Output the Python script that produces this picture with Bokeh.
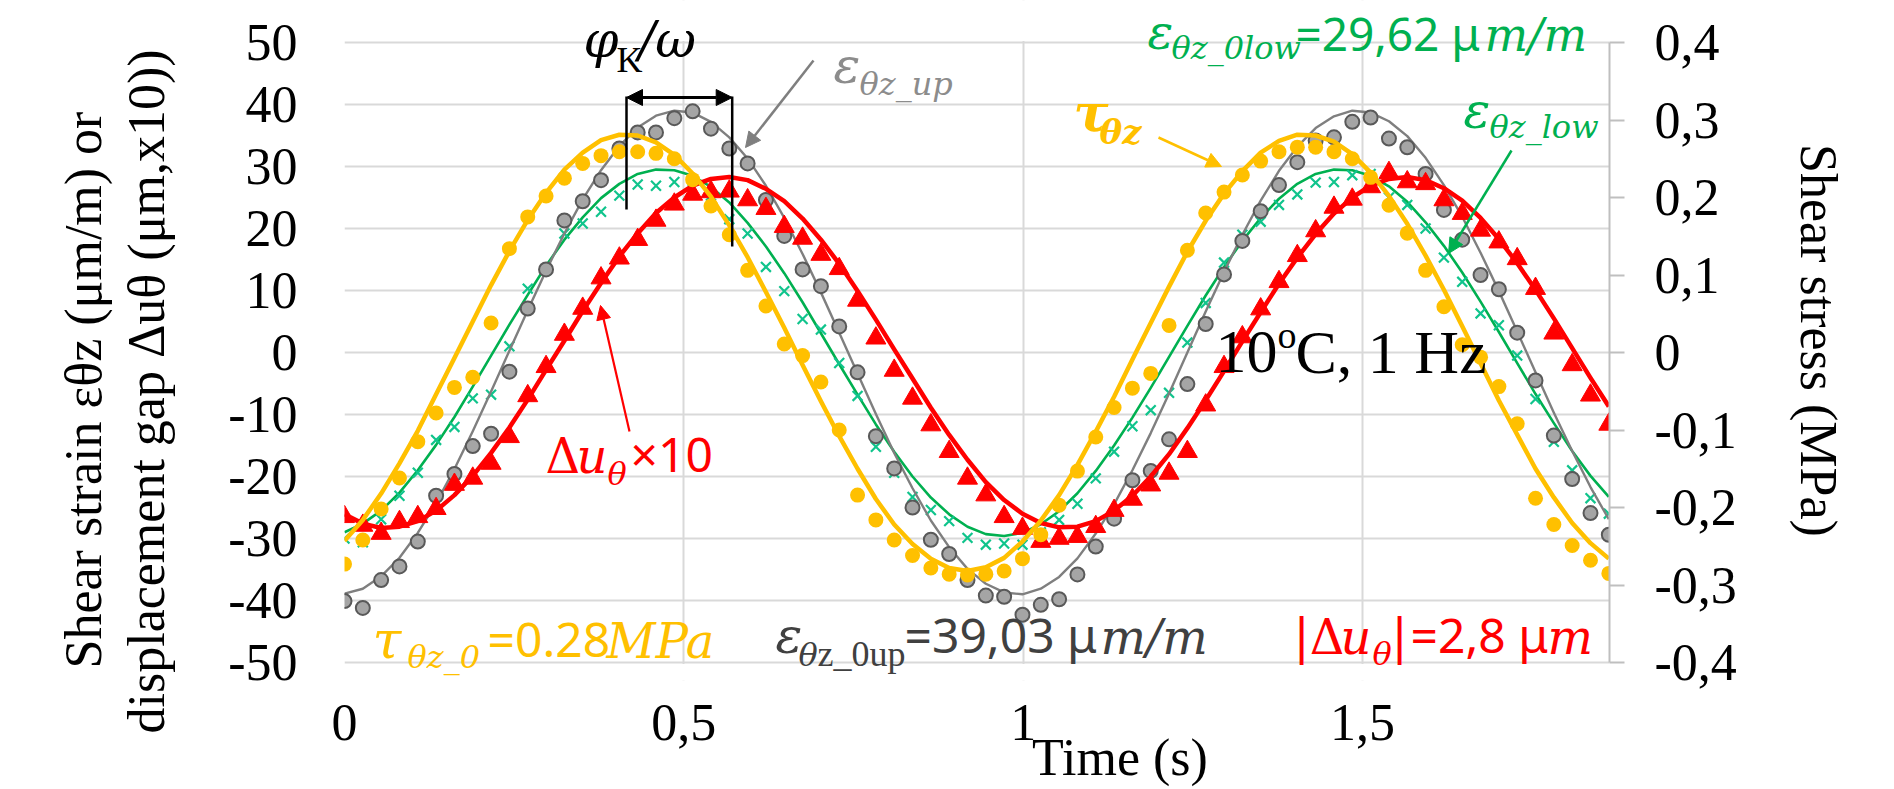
from bokeh.plotting import figure
from bokeh.models import (Range1d, LinearAxis, FixedTicker, CustomJSTickFormatter,
                          Label, Arrow, NormalHead, Title)
from bokeh.embed import file_html
from bokeh.resources import INLINE

# ---------------- data ----------------
time_s = [0.000, 0.027, 0.054, 0.081, 0.108, 0.135, 0.162, 0.189, 0.216, 0.243,
          0.270, 0.297, 0.324, 0.351, 0.378, 0.405, 0.432, 0.459, 0.486, 0.513,
          0.540, 0.567, 0.594, 0.621, 0.648, 0.675, 0.702, 0.729, 0.756, 0.783,
          0.810, 0.837, 0.864, 0.891, 0.918, 0.945, 0.972, 0.999, 1.026, 1.053,
          1.080, 1.107, 1.134, 1.161, 1.188, 1.215, 1.242, 1.269, 1.296, 1.323,
          1.350, 1.377, 1.404, 1.431, 1.458, 1.485, 1.512, 1.539, 1.566, 1.593,
          1.620, 1.647, 1.674, 1.701, 1.728, 1.755, 1.782, 1.809, 1.836, 1.863]

# upper shear strain (um/m), measured points and fitted curve
eps_up = [-40.1, -41.2, -36.7, -34.5, -30.5, -23.1, -19.6, -15.1, -13.1, -3.1,
          7.1, 13.4, 21.3, 24.4, 27.8, 32.9, 35.5, 35.5, 37.8, 38.9,
          36.1, 32.9, 30.5, 24.6, 18.8, 13.4, 10.7, 4.2, -3.2, -13.5,
          -18.7, -25.0, -30.2, -32.5, -36.7, -39.2, -39.4, -42.3, -40.7, -39.8,
          -35.8, -31.3, -26.8, -20.6, -19.1, -14.0, -5.1, 4.6, 12.6, 18.0,
          22.8, 27.0, 30.7, 34.2, 34.7, 37.2, 37.9, 34.5, 33.1, 28.8,
          23.0, 18.2, 12.5, 10.2, 3.2, -4.5, -13.4, -20.4, -25.9, -29.4]
eps_up_fit = [-38.9, -38.1, -36.1, -33.1, -29.1, -24.3, -18.8, -12.7, -6.3, 0.3,
              6.8, 13.2, 19.2, 24.7, 29.4, 33.3, 36.3, 38.2, 39.0, 38.7,
              37.2, 34.7, 31.3, 26.9, 21.7, 15.9, 9.7, 3.2, -3.4, -9.9,
              -16.2, -21.9, -27.1, -31.4, -34.9, -37.3, -38.7, -39.0, -38.1, -36.2,
              -33.2, -29.2, -24.5, -19.0, -13.0, -6.6, 0.0, 6.6, 13.0, 19.0,
              24.5, 29.3, 33.2, 36.2, 38.1, 39.0, 38.7, 37.3, 34.9, 31.4,
              27.0, 21.9, 16.1, 9.9, 3.4, -3.2, -9.7, -15.9, -21.7, -26.9]

# lower shear strain (um/m)
eps_low = [-30.0, -30.6, -26.9, -23.1, -19.4, -14.1, -12.0, -7.4, -6.8, 1.0,
           10.3, 13.3, 19.2, 20.8, 22.7, 25.3, 27.1, 26.9, 27.5, 27.7,
           25.3, 21.5, 19.2, 13.8, 9.9, 5.4, 3.7, -1.7, -7.0, -15.2,
           -19.4, -23.3, -25.4, -27.2, -29.9, -31.0, -30.8, -31.0, -29.0, -27.0,
           -24.4, -20.3, -16.0, -11.9, -9.3, -6.5, 1.6, 8.0, 14.5, 19.0,
           21.1, 23.8, 25.5, 27.4, 27.5, 28.6, 28.8, 25.0, 23.8, 20.0,
           15.3, 11.4, 6.3, 4.4, -0.5, -7.5, -14.4, -19.0, -23.5, -26.0]
eps_low_fit = [-29.0, -27.6, -25.5, -22.6, -19.0, -14.9, -10.4, -5.5, -0.5, 4.5,
               9.3, 14.0, 18.2, 21.8, 24.9, 27.2, 28.8, 29.5, 29.4, 28.5,
               26.7, 24.2, 20.9, 17.1, 12.8, 8.1, 3.1, -1.9, -6.8, -11.6,
               -16.0, -20.0, -23.4, -26.1, -28.1, -29.3, -29.6, -29.1, -27.7, -25.6,
               -22.7, -19.1, -15.0, -10.5, -5.7, -0.7, 4.3, 9.2, 13.8, 18.0,
               21.7, 24.8, 27.2, 28.8, 29.5, 29.4, 28.5, 26.8, 24.3, 21.0,
               17.2, 12.9, 8.2, 3.3, -1.7, -6.7, -11.4, -15.9, -19.9, -23.3]

# displacement gap x10 (um x10)
du_x10 = [-26.5, -27.9, -29.2, -27.3, -26.5, -25.2, -21.3, -20.3, -17.9, -13.6,
          -7.0, -2.3, 2.9, 7.1, 12.0, 15.2, 18.2, 21.3, 23.9, 25.5,
          25.9, 26.0, 24.6, 23.2, 20.3, 18.4, 15.8, 13.5, 8.4, 2.3,
          -2.9, -7.4, -11.7, -16.0, -20.3, -23.0, -26.5, -28.4, -30.5, -30.0,
          -29.7, -28.1, -25.5, -23.7, -21.4, -19.5, -16.0, -8.5, -2.3, 2.5,
          7.0, 11.4, 15.6, 19.6, 23.4, 24.7, 26.7, 29.0, 27.5, 27.2,
          24.6, 22.4, 19.7, 17.8, 15.1, 10.3, 3.1, -2.0, -6.9, -11.6]
du_x10_fit = [-26.1, -27.6, -28.3, -28.1, -27.2, -25.5, -23.0, -19.9, -16.2, -12.1,
              -7.6, -2.8, 1.9, 6.7, 11.2, 15.5, 19.2, 22.5, 25.0, 26.9,
              28.0, 28.3, 27.8, 26.4, 24.4, 21.6, 18.2, 14.3, 9.9, 5.3,
              0.5, -4.2, -8.9, -13.3, -17.3, -20.9, -23.8, -26.0, -27.5, -28.2,
              -28.1, -27.2, -25.5, -23.1, -20.0, -16.4, -12.2, -7.7, -3.0, 1.8,
              6.5, 11.1, 15.3, 19.1, 22.4, 25.0, 26.9, 28.0, 28.3, 27.8,
              26.5, 24.5, 21.7, 18.3, 14.4, 10.1, 5.5, 0.7, -4.1, -8.7]

# shear stress (MPa), right axis
tau = [-0.273, -0.242, -0.202, -0.162, -0.115, -0.078, -0.045, -0.032, 0.038, 0.134,
       0.175, 0.202, 0.225, 0.244, 0.254, 0.259, 0.259, 0.257, 0.250, 0.223,
       0.189, 0.152, 0.106, 0.060, 0.011, -0.004, -0.038, -0.100, -0.184, -0.216,
       -0.242, -0.262, -0.278, -0.286, -0.287, -0.286, -0.282, -0.266, -0.235, -0.197,
       -0.153, -0.109, -0.071, -0.046, -0.027, 0.035, 0.132, 0.180, 0.207, 0.229,
       0.247, 0.259, 0.265, 0.265, 0.259, 0.250, 0.226, 0.190, 0.154, 0.106,
       0.059, 0.010, -0.006, -0.044, -0.092, -0.188, -0.222, -0.249, -0.268, -0.285]
tau_fit = [-0.243, -0.216, -0.182, -0.143, -0.101, -0.054, -0.007, 0.040, 0.087, 0.131,
           0.171, 0.206, 0.236, 0.258, 0.274, 0.281, 0.280, 0.271, 0.255, 0.231,
           0.201, 0.164, 0.123, 0.078, 0.032, -0.016, -0.063, -0.108, -0.150, -0.189,
           -0.222, -0.247, -0.266, -0.278, -0.282, -0.277, -0.265, -0.244, -0.217, -0.184,
           -0.145, -0.102, -0.057, -0.009, 0.038, 0.085, 0.130, 0.170, 0.205, 0.234,
           0.258, 0.273, 0.281, 0.280, 0.272, 0.256, 0.232, 0.202, 0.166, 0.125,
           0.081, 0.034, -0.014, -0.062, -0.106, -0.150, -0.187, -0.220, -0.246, -0.266]

x_ticks = [0, 0.5, 1, 1.5]
left_ticks = [-50, -40, -30, -20, -10, 0, 10, 20, 30, 40, 50]
right_ticks = [-0.4, -0.3, -0.2, -0.1, 0, 0.1, 0.2, 0.3, 0.4]
X_MAX = 1.864
Y_MIN, Y_MAX = -50, 50
R_MIN, R_MAX = -0.4, 0.4

# ---------------- styles / geometry ----------------
YEL = "#FFC000"
GRY_LINE = "#7F7F7F"
GRY_FILL = "#A5A5A5"
GRY_EDGE = "#595959"
GRN_LINE = "#00B050"
GRN_MARK = "#10C48C"
RED = "#FF0000"
SERIF = "Liberation Serif"
MATH = "DejaVu Serif"
SANS = "Noto Sans"
MID = {SERIF: 0.3375, MATH: 0.346, SANS: 0.388}   # baseline -> box middle (em)

W, H = 1892, 788
FL, FR = 344, 1609
PLOT_TOP, PLOT_BOT = 42, 662
FRAME_BOT = 680
PPY = (PLOT_BOT - PLOT_TOP) / (Y_MAX - Y_MIN)
Y_HI = Y_MAX + PLOT_TOP / PPY
Y_LO = Y_MIN - (FRAME_BOT - PLOT_BOT) / PPY
SCALE_R = (R_MAX - R_MIN) / (Y_MAX - Y_MIN)

p = figure(width=W, height=H, output_backend="svg", toolbar_location=None,
           x_range=Range1d(0, X_MAX), y_range=Range1d(Y_LO, Y_HI),
           min_border_left=FL, min_border_right=W - FR, min_border_top=0,
           min_border_bottom=H - FRAME_BOT, outline_line_color=None,
           background_fill_color="white", border_fill_color="white")

def dx(px):
    return (px - FL) / (FR - FL) * X_MAX
def dy(py):
    return Y_MAX - (py - PLOT_TOP) / PPY

# grids
p.xgrid.ticker = FixedTicker(ticks=x_ticks)
p.ygrid.ticker = FixedTicker(ticks=left_ticks)
for g in (p.xgrid, p.ygrid):
    g.grid_line_color = "#D9D9D9"
    g.grid_line_width = 2

# white bands that keep the plot area limited to -50..50
band = 1.4 / PPY
p.quad(left=[0, 0], right=[X_MAX, X_MAX], bottom=[Y_MAX + band, Y_LO],
       top=[Y_HI, Y_MIN - band], fill_color="white", line_color=None)

NB = "\u00a0"
EM = "\u2003"

# bottom axis
xa = p.xaxis[0]
xa.ticker = FixedTicker(ticks=x_ticks)
xa.formatter = CustomJSTickFormatter(code="return tick.toFixed(1).replace('.', ',').replace(/,0$/, '');")
xa.axis_line_color = None
xa.major_tick_line_color = None
xa.minor_tick_line_color = None
xa.major_tick_out = 0
xa.major_tick_in = 0
xa.major_label_standoff = 24
xa.major_label_text_font = SERIF
xa.major_label_text_font_size = "52px"
xa.major_label_text_color = "black"
xa.axis_label = EM * 5 + NB * 2 + "Time (s)"
xa.axis_label_text_font = SERIF
xa.axis_label_text_font_size = "52px"
xa.axis_label_text_font_style = "normal"
xa.axis_label_text_color = "black"
xa.axis_label_standoff = -14

# left axis
ya = p.yaxis[0]
ya.ticker = FixedTicker(ticks=left_ticks)
ya.formatter = CustomJSTickFormatter(code="return tick.toFixed(0);")
ya.axis_line_color = None
ya.major_tick_line_color = None
ya.minor_tick_line_color = None
ya.major_tick_out = 0
ya.major_tick_in = 0
ya.major_label_standoff = 47
ya.major_label_text_font = SERIF
ya.major_label_text_font_size = "52px"
ya.major_label_text_color = "black"

# left axis title (two lines), placed in the left side panel
left_title = Title(text=NB * 5 + "Shear strain εθz (μm/m) or\ndisplacement gap Δuθ (μm,x10))",
                   align="left", offset=-53, vertical_align="middle", standoff=99,
                   text_font=SERIF, text_font_size="52px", text_font_style="normal",
                   text_color="black", text_line_height=1.1)
p.add_layout(left_title, "left")

# right axis (stress)
p.extra_y_ranges = {"stress": Range1d(Y_LO * SCALE_R, Y_HI * SCALE_R)}
ra = LinearAxis(y_range_name="stress", ticker=FixedTicker(ticks=right_ticks),
                formatter=CustomJSTickFormatter(code="return tick.toFixed(1).replace('.', ',').replace(/^-?0,0$/, '0');"))
ra.bounds = (R_MIN, R_MAX)
ra.axis_line_color = "#BFBFBF"
ra.axis_line_width = 2
ra.major_tick_line_color = "#BFBFBF"
ra.major_tick_line_width = 2
ra.major_tick_out = 15
ra.major_tick_in = 0
ra.minor_tick_line_color = None
ra.major_label_standoff = 30
ra.major_label_text_font = SERIF
ra.major_label_text_font_size = "52px"
ra.major_label_text_color = "black"
ra.axis_label = "Shear stress (MPa)"
ra.axis_label_text_font = SERIF
ra.axis_label_text_font_size = "52px"
ra.axis_label_text_font_style = "normal"
ra.axis_label_text_color = "black"
ra.axis_label_standoff = 50
p.add_layout(ra, "right")

# ---------------- series ----------------
p.line(time_s, eps_low_fit, line_color=GRN_LINE, line_width=2.6, line_join="round")
p.scatter(time_s, eps_low, marker="x", size=14, line_color=GRN_MARK, line_width=2.2)
p.line(time_s, eps_up_fit, line_color=GRY_LINE, line_width=2.4, line_join="round")
p.scatter(time_s, eps_up, marker="circle", size=14, fill_color=GRY_FILL,
          line_color=GRY_EDGE, line_width=2)
p.line(time_s, du_x10_fit, line_color=RED, line_width=4.5, line_join="round")
p.scatter(time_s, du_x10, marker="triangle", size=20, fill_color=RED, line_color=RED)
p.line(time_s, tau_fit, y_range_name="stress", line_color=YEL, line_width=4.5,
       line_join="round")
p.scatter(time_s, tau, y_range_name="stress", marker="circle", size=15,
          fill_color=YEL, line_color=None)

# ---------------- annotations ----------------
def lab(s, px, py, size, color="black", font=SERIF, style="normal"):
    # (px, py): left end of the text baseline, in page pixels
    p.add_layout(Label(x=dx(px), y=dy(py - MID[font] * size), text=s, text_font=font,
                       text_font_size=f"{size}px", text_color=color,
                       text_font_style=style, text_align="left",
                       text_baseline="middle"))

def arr(x0, y0, x1, y1, color, width=2.5, both=False, size=15):
    end = NormalHead(size=size, fill_color=color, line_color=color)
    start = NormalHead(size=size, fill_color=color, line_color=color) if both else None
    p.add_layout(Arrow(end=end, start=start, x_start=dx(x0), y_start=dy(y0),
                       x_end=dx(x1), y_end=dy(y1), line_color=color, line_width=width))

# phase lag marker
p.segment(x0=[dx(626), dx(731.7)], y0=[dy(96), dy(96)],
          x1=[dx(626), dx(731.7)], y1=[dy(209), dy(246)],
          line_color="black", line_width=2.5)
arr(626, 97, 731.7, 97, "black", width=3, both=True, size=16)
lab("φ", 583, 57, 50, font=MATH, style="italic")
lab("K", 616, 72, 36)
lab("/ω", 638, 57, 50, font=MATH, style="italic")

# eps_up label + arrow
lab("ε", 833, 83, 50, color="#8C8C8C", font=MATH, style="italic")
lab("θz_up", 859, 95, 32, color="#8C8C8C", font=MATH, style="italic")
arr(813, 60, 745, 147, GRY_LINE, width=2.5)

# tau label + arrow
lab("τ", 1073, 130, 52, color=YEL, font=MATH, style="bold italic")
lab("θz", 1099, 143, 34, color=YEL, font=MATH, style="bold italic")
arr(1158, 137, 1221, 166, YEL, width=2.5)

# eps_low label + arrow
lab("ε", 1463, 128, 50, color=GRN_LINE, font=MATH, style="italic")
lab("θz_low", 1489, 138, 32, color=GRN_LINE, font=MATH, style="italic")
arr(1511, 150, 1448, 253, GRN_LINE, width=2.5)

# du label + arrow
lab("Δ", 545, 472, 48, color=RED, font=MATH)
lab("u", 576, 472, 48, color=RED, font=MATH, style="italic")
lab("θ", 607, 485, 32, color=RED, font=MATH, style="italic")
lab("×10", 630, 472, 48, color=RED, font=SANS)
arr(629, 431, 600, 305, RED, width=2.2, size=14)

# test condition
lab("10", 1215, 372, 62)
lab("o", 1277, 347, 38)
lab("C, 1 Hz", 1295, 372, 62)

# amplitudes
lab("τ", 372, 657, 52, color=YEL, font=MATH, style="italic")
lab("θz_0", 407, 668, 32, color=YEL, font=MATH, style="italic")
lab("=0.28", 487, 657, 48, color=YEL, font=SANS)
lab("MPa", 606, 657, 48, color=YEL, font=MATH, style="italic")

lab("ε", 775, 653, 50, color="#404040", font=MATH, style="italic")
lab("θ", 798, 666, 32, color="#404040", font=MATH, style="italic")
lab("z_0up", 817, 666, 36, color="#404040")
lab("=39,03 μ", 904, 653, 48, color="#404040", font=SANS)
lab("m/m", 1100, 653, 48, color="#404040", font=MATH, style="italic")

lab("|Δ", 1293, 653, 48, color=RED, font=MATH)
lab("u", 1340, 653, 48, color=RED, font=MATH, style="italic")
lab("θ", 1372, 665, 32, color=RED, font=MATH, style="italic")
lab("|", 1391, 653, 48, color=RED, font=MATH)
lab("=2,8 μ", 1410, 653, 48, color=RED, font=SANS)
lab("m", 1547, 653, 48, color=RED, font=MATH, style="italic")

lab("ε", 1147, 48, 48, color=GRN_LINE, font=MATH, style="italic")
lab("θz_0low", 1171, 59, 32, color=GRN_LINE, font=MATH, style="italic")
lab("=29,62 μ", 1295, 50, 46, color=GRN_LINE, font=SANS)
lab("m/m", 1484, 50, 46, color=GRN_LINE, font=MATH, style="italic")

open("out.html", "w").write(file_html(p, INLINE))
